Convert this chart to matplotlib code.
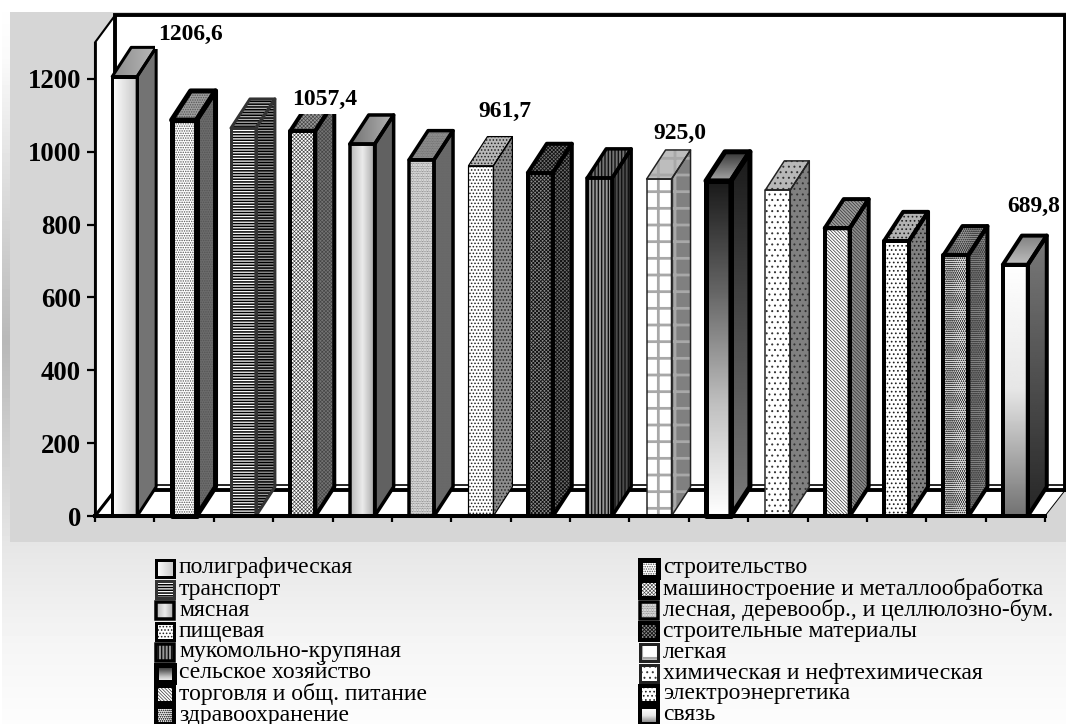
import numpy as np
import matplotlib
matplotlib.use('Agg')
import matplotlib.pyplot as plt
from matplotlib.patches import Polygon

plt.rcParams['font.family'] = ['Liberation Serif', 'DejaVu Serif']

W, H = 1066, 724

# values in the order of the bars
branches = ['полиграфическая', 'строительство', 'транспорт',
            'машиностроение и металлообработка', 'мясная',
            'лесная, деревообр., и целлюлозно-бум.', 'пищевая',
            'строительные материалы', 'мукомольно-крупяная', 'легкая',
            'сельское хозяйство', 'химическая и нефтехимическая',
            'торговля и общ. питание', 'электроэнергетика',
            'здравоохранение', 'связь']
values = [1206.6, 1087, 1065, 1057.4, 1021, 978, 961.7, 942,
          928, 925.0, 920, 895, 790, 755, 716, 689.8]
yticks = [0, 200, 400, 600, 800, 1000, 1200]

# which bars carry a value label, and its offset in pixels
labelled = {0: (66, 42), 3: (22, 31), 6: (24, 54), 9: (21, 46), 15: (18, 58)}

# fill = grey level, or (stops, direction) for a gradient; hl = hatch line width
styles = [
    dict(front=([1.0, 0.78], 'h'), side=0.45, top=([0.55, 0.72], 'h'), hatch='', pc='k', ec='k', lw=3, hl=0.7),
    dict(front=1.0, side=0.42, top=0.62, hatch='.......', pc='#555555', ec='k', lw=5, hl=0.7),
    dict(front=1.0, side=0.62, top=0.72, hatch='------', pc='k', ec='#333333', lw=3, hl=1.1),
    dict(front=1.0, side=0.45, top=0.6, hatch='xxxxxxxxx', pc='#444444', ec='k', lw=4, hl=0.45),
    dict(front=([0.72, 0.92, 0.65], 'h'), side=0.38, top=([0.45, 0.7], 'h'), hatch='', pc='k', ec='k', lw=3.5, hl=0.7),
    dict(front=1.0, side=0.42, top=0.6, hatch='..........', pc='#666666', ec='k', lw=3.5, hl=0.7),
    dict(front=1.0, side=0.55, top=0.72, hatch='.....', pc='#222222', ec='k', lw=1.2, hl=0.7),
    dict(front=0.55, side=0.42, top=0.45, hatch='xxxxxxxxx', pc='#111111', ec='k', lw=4, hl=0.6),
    dict(front=0.6, side=0.3, top=0.45, hatch='|||||', pc='#111111', ec='k', lw=3.5, hl=1.0),
    dict(front=1.0, side=0.5, top=0.74, hatch='+', pc='#a8a8a8', ec='#222222', lw=1.5, hl=2.0),
    dict(front=([0.1, 0.4, 0.75, 1.0], 'v'), side=([0.1, 0.3, 0.48], 'v'), top=([0.2, 0.65], 'v'), hatch='', pc='k', ec='k', lw=5, hl=0.7),
    dict(front=1.0, side=0.5, top=0.72, hatch='...', pc='#333333', ec='#222222', lw=1.5, hl=0.7),
    dict(front=1.0, side=0.55, top=0.62, hatch='\\' * 10, pc='#333333', ec='k', lw=4, hl=0.5),
    dict(front=1.0, side=0.5, top=0.7, hatch='....', pc='#222222', ec='k', lw=4, hl=0.7),
    dict(front=0.92, side=0.55, top=0.6, hatch='oooooooo', pc='#444444', ec='k', lw=4, hl=0.4),
    dict(front=([1.0, 0.9, 0.45], 'v'), side=([0.48, 0.15], 'v'), top=([0.5, 0.75], 'v'), hatch='', pc='k', ec='k', lw=4, hl=0.7),
]


def shade(ax, pts, fill, st, zorder):
    # one face of a bar: plain or gradient fill, then the pattern on top
    if isinstance(fill, tuple):
        stops, direction = fill
        clip = Polygon(pts, closed=True, fc='none', ec='none', zorder=zorder, clip_on=False)
        ax.add_patch(clip)
        xs, ys = zip(*pts)
        ramp = np.interp(np.linspace(0, 1, 128), np.linspace(0, 1, len(stops)), stops)
        img = ramp[None, :] if direction == 'h' else ramp[:, None]
        # extent keeps the first stop at the top in either y direction
        top_first = ax.yaxis_inverted()
        ext = [min(xs), max(xs), max(ys), min(ys)] if top_first else [min(xs), max(xs), min(ys), max(ys)]
        im = ax.imshow(img, cmap='gray', vmin=0, vmax=1, extent=ext, aspect='auto',
                       origin='upper', zorder=zorder, interpolation='bilinear')
        im.set_clip_path(clip)
    else:
        ax.add_patch(Polygon(pts, closed=True, fc=str(fill), ec='none', zorder=zorder, clip_on=False))
    if st['hatch']:
        plt.rcParams['hatch.linewidth'] = st['hl']
        ax.add_patch(Polygon(pts, closed=True, fc='none', ec=st['pc'], lw=0, hatch=st['hatch'],
                             zorder=zorder, clip_on=False))


fig = plt.figure(figsize=(W / 100, H / 100), dpi=100, facecolor='white')

# background and legend live in a pixel axes
bg = fig.add_axes([0, 0, 1, 1])
bg.set_xlim(0, W)
bg.set_ylim(H, 0)
bg.autoscale(False)
bg.axis('off')
ramp = np.interp(np.arange(H), [0, 60, 342, 542, 640, 724], [1.0, 0.98, 0.72, 0.9, 0.96, 0.99])
bg.imshow(ramp[:, None], cmap='gray', vmin=0, vmax=1, extent=[2, W, H, 0], aspect='auto', zorder=0)
bg.fill_between([10, W], 12, 542, color='#d6d6d6', lw=0, zorder=1)

# legend, read row by row across the two columns
for i, (name, st) in enumerate(zip(branches, styles)):
    col, row = i % 2, i // 2
    sx = [156, 640][col]
    tx = [179, 663][col]
    sy = 568 + 21 * row
    pts = [(sx, sy - 8), (sx + 18, sy - 8), (sx + 18, sy + 9), (sx, sy + 9)]
    shade(bg, pts, st['front'], st, 3)
    bg.add_patch(Polygon(pts, closed=True, fc='none', ec=st['ec'],
                         lw=max(st['lw'], 3) * 0.72, joinstyle='miter', zorder=4))
    bg.text(tx, sy, name, fontsize=17, va='center', ha='left', color='k', zorder=5)

# chart axes: its frame is the front plane of the 3d box
ax = fig.add_axes([95 / W, 1 - 516 / H, 950 / W, (516 - 42.5) / H])
ax.patch.set_visible(False)
ax.set_xlim(0, 16)
ax.set_ylim(0, 1300)
ax.autoscale(False)

wall_dx, wall_dy, wall_top = 0.34, 71, 1375
bar_w, bar_dx, bar_dy = 0.42, 0.32, 80

# walls and floor
ax.add_patch(Polygon([(wall_dx, wall_dy), (16 + wall_dx, wall_dy), (16 + wall_dx, wall_top), (wall_dx, wall_top)],
                     closed=True, fc='white', ec='none', zorder=1, clip_on=False))
ax.add_patch(Polygon([(0, 0), (wall_dx, wall_dy), (wall_dx, wall_top), (0, 1300)],
                     closed=True, fc='white', ec='k', lw=1.5, zorder=1.1, clip_on=False))
ax.add_patch(Polygon([(0, 0), (16, 0), (16 + wall_dx, wall_dy), (wall_dx, wall_dy)],
                     closed=True, fc='white', ec='k', lw=0.7, zorder=1.1, clip_on=False))
ax.plot([0, wall_dx], [0, wall_dy], color='k', lw=2.2, zorder=1.2, clip_on=False)
ax.plot([wall_dx, 16 + wall_dx], [wall_dy, wall_dy], color='k', lw=2.8, zorder=1.2, clip_on=False)
ax.plot([wall_dx, 16 + wall_dx], [wall_dy + 13, wall_dy + 13], color='k', lw=1.2, zorder=1.2, clip_on=False)
ax.plot([wall_dx, wall_dx, 16 + wall_dx, 16 + wall_dx],
        [wall_dy, wall_top, wall_top, wall_dy], color='k', lw=2.8, zorder=1.3,
        solid_joinstyle='miter', clip_on=False)

# bars
for i, (v, st) in enumerate(zip(values, styles)):
    x0 = i + 0.5 - bar_w / 2
    x1 = i + 0.5 + bar_w / 2
    front = [(x0, 0), (x1, 0), (x1, v), (x0, v)]
    side = [(x1, 0), (x1 + bar_dx, bar_dy), (x1 + bar_dx, v + bar_dy), (x1, v)]
    top = [(x0, v), (x1, v), (x1 + bar_dx, v + bar_dy), (x0 + bar_dx, v + bar_dy)]
    z = 3 + i * 0.01
    shade(ax, side, st['side'], st, z)
    shade(ax, top, st['top'], st, z)
    shade(ax, front, st['front'], st, z)
    for pts in (side, top, front):
        ax.add_patch(Polygon(pts, closed=True, fc='none', ec=st['ec'], lw=st['lw'] * 0.72,
                             joinstyle='round', zorder=z + 0.001, clip_on=False))

# value labels
for i, (ox, oy) in labelled.items():
    txt = '{:.1f}'.format(values[i]).replace('.', ',')
    ax.annotate(txt, xy=(i + 0.5, values[i]), xytext=(ox, oy), textcoords='offset pixels',
                ha='center', va='center', fontsize=17, fontweight='bold', zorder=6,
                bbox=dict(fc='white', ec='none', pad=2.5))

# axes furniture
for s in ('top', 'right'):
    ax.spines[s].set_visible(False)
ax.spines['left'].set_linewidth(2.0)
ax.spines['bottom'].set_linewidth(2.9)
ax.spines['bottom'].set_zorder(5)
ax.set_yticks(yticks)
ax.set_xticks(np.arange(17))
ax.set_xticklabels([])
ax.tick_params(axis='y', length=6, width=1.6, pad=4, labelsize=19.3)
ax.tick_params(axis='x', length=4, width=1.6)
for t in ax.get_yticklabels():
    t.set_fontweight('bold')

fig.savefig('out.png', dpi=100)
